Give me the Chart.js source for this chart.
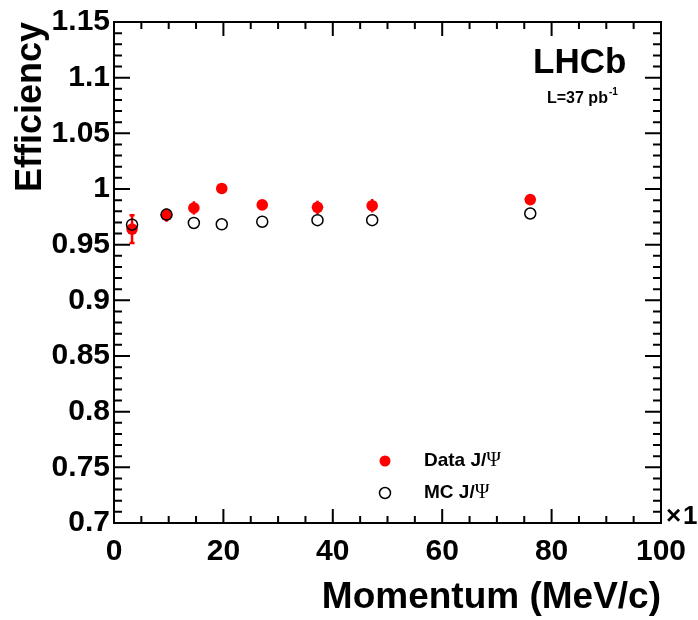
<!DOCTYPE html>
<html>
<head>
<meta charset="utf-8">
<script src="https://cdn.jsdelivr.net/npm/chart.js@4.4.1/dist/chart.umd.min.js"></script>
<style>
html, body { margin: 0; padding: 0; background: #fff; }
canvas { display: block; }
</style>
</head>
<body>
<canvas id="graficoEff" width="698" height="620"></canvas>
<script>
// Dati
const momento = [3.3, 9.6, 14.6, 19.7, 27.1, 37.2, 47.2, 76.1];
const effDati = [0.964, 0.9765, 0.983, 1.0005, 0.9857, 0.9835, 0.985, 0.9905];
const errDati = [0.0125, 0.006, 0.006, 0.002, 0.004, 0.006, 0.006, 0.003];
const effMC = [0.968, 0.977, 0.9695, 0.9683, 0.9706, 0.972, 0.972, 0.978];
const tickY = [0.7, 0.75, 0.8, 0.85, 0.9, 0.95, 1, 1.05, 1.1, 1.15];
const tickX = [0, 20, 40, 60, 80, 100];

const FONT = '"Liberation Sans", Arial, Helvetica, sans-serif';
const etichetta = v => String(parseFloat(v.toFixed(2)));

// Stile ROOT: tacche interne, cornice, barre d'errore, legenda e testi
const stileRoot = {
    id: 'stileRoot',
    beforeDatasetsDraw(chart) {
        const { ctx, scales: { x, y } } = chart;
        ctx.save();
        ctx.strokeStyle = '#ff0000';
        ctx.lineWidth = 2.5;
        momento.forEach((m, i) => {
            const px = x.getPixelForValue(m);
            const y1 = y.getPixelForValue(effDati[i] - errDati[i]);
            const y2 = y.getPixelForValue(effDati[i] + errDati[i]);
            ctx.beginPath();
            ctx.moveTo(px, y1);
            ctx.lineTo(px, y2);
            if (y1 - y2 > 16) {
                ctx.moveTo(px - 2.5, y1); ctx.lineTo(px + 2.5, y1);
                ctx.moveTo(px - 2.5, y2); ctx.lineTo(px + 2.5, y2);
            }
            ctx.stroke();
        });
        ctx.restore();
    },
    afterDraw(chart) {
        const { ctx, chartArea: a, scales: { x, y } } = chart;
        ctx.save();
        ctx.strokeStyle = '#000';
        ctx.lineWidth = 2;
        ctx.strokeRect(a.left, a.top, a.right - a.left, a.bottom - a.top);

        ctx.beginPath();
        for (let k = 0; k <= 45; k++) {
            const py = y.getPixelForValue(0.7 + k * 0.01);
            const len = k % 5 === 0 ? 16 : 8;
            ctx.moveTo(a.left, py); ctx.lineTo(a.left + len, py);
            ctx.moveTo(a.right, py); ctx.lineTo(a.right - len, py);
        }
        for (let k = 0; k <= 20; k++) {
            const px = x.getPixelForValue(k * 5);
            const len = k % 4 === 0 ? 14 : 7;
            ctx.moveTo(px, a.bottom); ctx.lineTo(px, a.bottom - len);
            ctx.moveTo(px, a.top); ctx.lineTo(px, a.top + len);
        }
        ctx.stroke();

        // esponente asse x (tagliato dal bordo come nell'originale)
        ctx.fillStyle = '#000';
        ctx.textBaseline = 'alphabetic';
        ctx.textAlign = 'left';
        ctx.font = 'bold 26px ' + FONT;
        ctx.fillText('\u00d7', a.right + 5, a.bottom + 1);
        ctx.fillText('10', a.right + 22, a.bottom + 1);

        // LHCb
        ctx.font = 'bold 35px ' + FONT;
        ctx.fillText('LHCb', 533, 73);
        ctx.font = 'bold 16px ' + FONT;
        ctx.fillText('L=37 pb', 547, 103);
        const wL = ctx.measureText('L=37 pb').width;
        ctx.font = 'bold 10px ' + FONT;
        ctx.fillText('-1', 547 + wL + 1, 95);

        // legenda
        const voci = [
            { testo: 'Data J/', y: 461, pieno: true },
            { testo: 'MC J/', y: 493, pieno: false }
        ];
        voci.forEach(v => {
            ctx.beginPath();
            ctx.arc(385, v.y, 5.5, 0, Math.PI * 2);
            if (v.pieno) { ctx.fillStyle = '#ff0000'; ctx.fill(); }
            else { ctx.lineWidth = 1.5; ctx.strokeStyle = '#000'; ctx.stroke(); }
            ctx.fillStyle = '#000';
            ctx.textBaseline = 'middle';
            ctx.font = 'bold 19px ' + FONT;
            ctx.fillText(v.testo, 424, v.y);
            const w = ctx.measureText(v.testo).width;
            ctx.font = '20px "Liberation Serif", "DejaVu Serif", serif';
            ctx.fillText('\u03a8', 424 + w, v.y);
        });
        ctx.restore();
    }
};

const ctx = document.getElementById('graficoEff').getContext('2d');
const grafico = new Chart(ctx, {
    type: 'scatter',
    data: {
        datasets: [
            {
                label: 'MC J/\u03a8',
                data: momento.map((m, i) => ({ x: m, y: effMC[i] })),
                pointRadius: 5.5,
                pointBackgroundColor: 'rgba(0,0,0,0)',
                pointBorderColor: '#000',
                pointBorderWidth: 1.5
            },
            {
                label: 'Data J/\u03a8',
                data: momento.map((m, i) => ({ x: m, y: effDati[i] })),
                pointRadius: 5.8,
                pointBackgroundColor: '#ff0000',
                pointBorderWidth: 0
            }
        ]
    },
    options: {
        responsive: false,
        animation: false,
        layout: { padding: { top: 18, right: 37, left: 0, bottom: 0 } },
        plugins: { legend: { display: false }, tooltip: { enabled: false } },
        scales: {
            x: {
                type: 'linear', min: 0, max: 100,
                afterBuildTicks: s => { s.ticks = tickX.map(v => ({ value: v })); },
                afterFit: s => { s.height = 97; },
                grid: { display: false, drawTicks: false },
                border: { display: false },
                ticks: {
                    font: { family: FONT, size: 30, weight: 'bold' }, color: '#000',
                    padding: 11, maxRotation: 0, autoSkip: false, callback: etichetta
                },
                title: {
                    display: true, text: 'Momentum (MeV/c)', align: 'end', color: '#000',
                    font: { family: FONT, size: 37, weight: 'bold' }, padding: { top: 0, bottom: 0 }
                }
            },
            y: {
                type: 'linear', min: 0.7, max: 1.15,
                afterBuildTicks: s => { s.ticks = tickY.map(v => ({ value: v })); },
                afterFit: s => { s.width = 114; },
                grid: { display: false, drawTicks: false },
                border: { display: false },
                ticks: {
                    font: { family: FONT, size: 30, weight: 'bold' }, color: '#000',
                    padding: 4, autoSkip: false, callback: etichetta
                },
                title: {
                    display: true, text: 'Efficiency', align: 'end', color: '#000',
                    font: { family: FONT, size: 36, weight: 'bold' }, padding: { top: 9, bottom: 0 }
                }
            }
        }
    },
    plugins: [stileRoot]
});
</script>
</body>
</html>
